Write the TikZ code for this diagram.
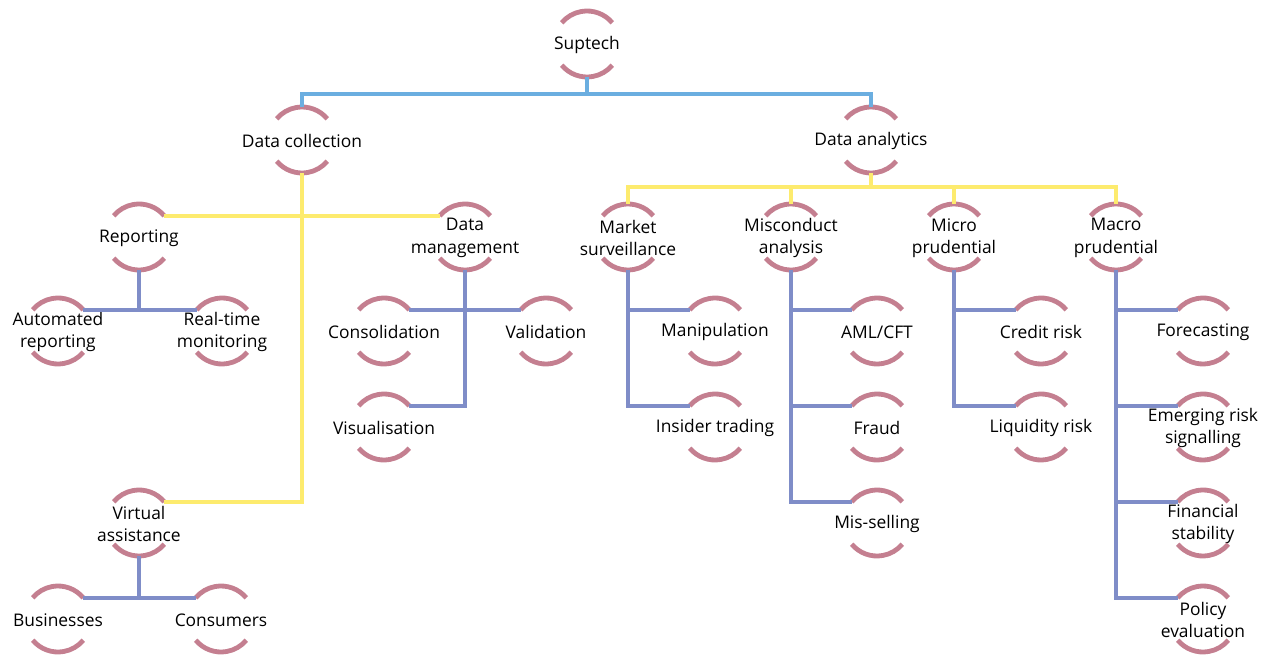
\documentclass[tikz,border=0pt]{standalone}
\usepackage{fontspec}
\setmainfont{Open Sans}
\definecolor{arcc}{HTML}{C47F90}
\definecolor{bluec}{HTML}{6BAEE0}
\definecolor{yelc}{HTML}{FDEB6E}
\definecolor{purc}{HTML}{7F8DC8}
\tikzset{
  nd/.style={circle, minimum size=66pt, inner sep=0pt, outer sep=0pt},
  lbl/.style={align=center, inner sep=0pt, yshift=-1pt, font=\fontsize{17.4}{22.5}\selectfont},
  arcline/.style={draw=arcc, line width=4.8pt},
  bl/.style={draw=bluec, line width=4.5pt},
  yl/.style={draw=yelc, line width=4.5pt},
  pl/.style={draw=purc, line width=4.5pt},
}
\newcommand\tnode[4]{%
  \node[nd, label={[lbl]center:{#4}}] (#1) at (#2,-#3) {};
  \draw[arcline] (#1.40) arc[start angle=40,end angle=140,radius=33pt];
  \draw[arcline] (#1.220) arc[start angle=220,end angle=320,radius=33pt];
}
\begin{document}
\begin{tikzpicture}[x=1pt,y=1pt]
\useasboundingbox (0,0) rectangle (1264,-655);
\tnode{sup}{587}{44}{Suptech}
\tnode{dc}{302}{140}{Data collection}
\tnode{da}{871}{140}{Data analytics}
\tnode{rep}{139}{237}{Reporting}
\tnode{dm}{465}{237}{Data\\management}
\tnode{ar}{58}{331}{Automated\\reporting}
\tnode{rt}{222}{331}{Real-time\\monitoring}
\tnode{cons}{384}{331}{Consolidation}
\tnode{val}{546}{331}{Validation}
\tnode{vis}{384}{427}{Visualisation}
\tnode{va}{139}{523}{Virtual\\assistance}
\tnode{bus}{58}{619}{Businesses}
\tnode{con}{221}{619}{Consumers}
\tnode{ms}{628}{237}{Market\\surveillance}
\tnode{mca}{791}{237}{Misconduct\\analysis}
\tnode{mip}{954}{237}{Micro\\prudential}
\tnode{map}{1116}{237}{Macro\\prudential}
\tnode{man}{715}{331}{Manipulation}
\tnode{ins}{715}{427}{Insider trading}
\tnode{aml}{877}{331}{AML/CFT}
\tnode{fr}{877}{427}{Fraud}
\tnode{mss}{877}{523}{Mis-selling}
\tnode{cr}{1041}{331}{Credit risk}
\tnode{lr}{1041}{427}{Liquidity risk}
\tnode{fc}{1203}{331}{Forecasting}
\tnode{ers}{1203}{427}{Emerging risk\\signalling}
\tnode{fs}{1203}{523}{Financial\\stability}
\tnode{pe}{1203}{619}{Policy\\evaluation}
% blue
\draw[bl] (sup.south) -- ++(0,-17) -| (dc.north);
\draw[bl] (sup.south) -- ++(0,-17) -| (da.north);
% yellow
\draw[yl] (dc.south) |- (rep.40);
\draw[yl] (dc.south) |- (dm.140);
\draw[yl] (dc.south) |- (va.40);
\foreach \c in {ms,mca,mip,map}{
  \draw[yl] (da.south) -- ++(0,-14) -| (\c.north);
}
% purple
\draw[pl] (rep.south) |- (ar.40);
\draw[pl] (rep.south) |- (rt.140);
\draw[pl] (dm.south) |- (cons.40);
\draw[pl] (dm.south) |- (val.140);
\draw[pl] (dm.south) |- (vis.40);
\draw[pl] (va.south) |- (bus.40);
\draw[pl] (va.south) |- (con.140);
\draw[pl] (ms.south) |- (man.140);
\draw[pl] (ms.south) |- (ins.140);
\draw[pl] (mca.south) |- (aml.140);
\draw[pl] (mca.south) |- (fr.140);
\draw[pl] (mca.south) |- (mss.140);
\draw[pl] (mip.south) |- (cr.140);
\draw[pl] (mip.south) |- (lr.140);
\draw[pl] (map.south) |- (fc.140);
\draw[pl] (map.south) |- (ers.140);
\draw[pl] (map.south) |- (fs.140);
\draw[pl] (map.south) |- (pe.140);
\end{tikzpicture}
\end{document}
